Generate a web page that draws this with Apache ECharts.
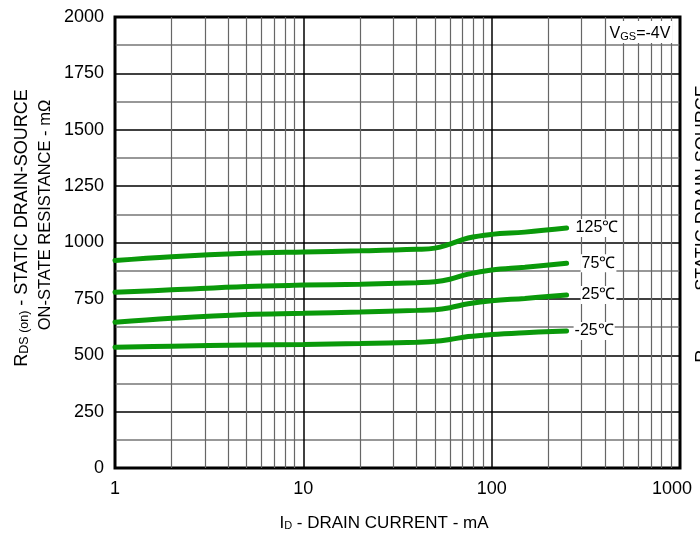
<!DOCTYPE html>
<html>
<head>
<meta charset="utf-8">
<script src="https://cdn.jsdelivr.net/npm/echarts@6/dist/echarts.min.js"></script>
<style>
  html, body { margin: 0; padding: 0; background: #fff; }
  #main { width: 700px; height: 538px; }
</style>
</head>
<body>
<div id="main"></div>
<script>
let myChart = echarts.init(document.getElementById("main"));

// drain current, mA
let currents = [1, 2, 5, 10, 20, 40, 50, 60, 75, 100, 150, 250];
// on-state resistance, mOhm
let r125 = [920, 937, 952, 958, 963, 970, 975, 993, 1020, 1036, 1046, 1064];
let r75 = [779, 790, 805, 811, 815, 822, 826, 837, 860, 878, 890, 908];
let r25 = [646, 664, 681, 686, 692, 699, 702, 711, 728, 742, 752, 767];
let rMinus25 = [535, 540, 546, 548, 552, 558, 562, 570, 583, 592, 600, 608];
let seriesNames = ["125℃", "75℃", "25℃", "-25℃"];
let labelGaps = [8, 14, 14, 7];
let minorCurrents = [2, 3, 4, 5, 6, 7, 8, 9, 20, 30, 40, 50, 60, 70, 80, 90,
  200, 300, 400, 500, 600, 700, 800, 900];

let font = "'Liberation Sans', Arial, sans-serif";
let green = "#0a990a";

function pairs(ys) {
  let out = [];
  for (let i = 0; i < currents.length; i++) {
    out.push([currents[i], ys[i]]);
  }
  return out;
}

function richText(size, subSize, lh) {
  return {
    a: { fontFamily: font, fontSize: size, fill: "#000", lineHeight: lh, verticalAlign: "bottom" },
    s: { fontFamily: font, fontSize: subSize, fill: "#000", lineHeight: lh, verticalAlign: "bottom" },
  };
}

let curves = [r125, r75, r25, rMinus25];
let series = [
  {
    type: "line",
    data: [],
    z: 1,
    silent: true,
    markLine: {
      silent: true,
      symbol: "none",
      label: { show: false },
      lineStyle: { color: "#666", width: 1.2, type: "solid" },
      data: minorCurrents.map((v) => ({ xAxis: v })),
    },
  },
];
for (let i = 0; i < curves.length; i++) {
  series.push({
    type: "line",
    name: seriesNames[i],
    data: pairs(curves[i]),
    smooth: 0.4,
    showSymbol: false,
    z: 5,
    lineStyle: { color: green, width: 5, cap: "round" },
    endLabel: {
      show: true,
      formatter: "{a}",
      distance: labelGaps[i],
      color: "#000",
      fontFamily: font,
      fontSize: 16,
      backgroundColor: "#fff",
      padding: [1, 1, 1, 1],
    },
  });
}

let option = {
  animation: false,
  grid: {
    left: 115,
    right: 20,
    top: 17,
    bottom: 70,
    show: true,
    borderColor: "#000",
    borderWidth: 3,
  },
  xAxis: {
    type: "log",
    logBase: 10,
    min: 1,
    max: 1000,
    axisLine: { show: false },
    axisTick: { show: false },
    axisLabel: {
      color: "#000",
      fontFamily: font,
      fontSize: 18,
      margin: 12,
      formatter: (v) => (v === 1000 ? "{r|1000}" : String(v)),
      rich: { r: { fontFamily: font, fontSize: 18, color: "#000", padding: [0, 16, 0, 0] } },
    },
    splitLine: { show: true, lineStyle: { color: "#000", width: 1.5 } },
  },
  yAxis: {
    type: "value",
    min: 0,
    max: 2000,
    interval: 250,
    axisLine: { show: false },
    axisTick: { show: false },
    axisLabel: {
      color: "#000",
      fontFamily: font,
      fontSize: 18,
      margin: 11,
      formatter: (v) => String(v),
    },
    splitLine: { show: true, lineStyle: { color: "#000", width: 1.5 } },
    minorTick: { show: false, splitNumber: 2 },
    minorSplitLine: { show: true, lineStyle: { color: "#777", width: 1.5 } },
  },
  graphic: [
    {
      type: "text",
      x: 20,
      y: 228,
      rotation: Math.PI / 2,
      style: {
        text: "{a|R}{s|DS (on)}{a| - STATIC DRAIN-SOURCE}",
        align: "center",
        verticalAlign: "middle",
        rich: richText(18, 12.5, 22),
      },
    },
    {
      type: "text",
      x: 45,
      y: 215,
      rotation: Math.PI / 2,
      style: {
        text: "ON-STATE RESISTANCE - mΩ",
        align: "center",
        verticalAlign: "middle",
        fontFamily: font,
        fontSize: 16.5,
        fill: "#000",
      },
    },
    {
      type: "text",
      x: 701,
      y: 224,
      rotation: Math.PI / 2,
      style: {
        text: "{a|R}{s|DS (on)}{a| - STATIC DRAIN-SOURCE}",
        align: "center",
        verticalAlign: "middle",
        rich: richText(18, 12.5, 22),
      },
    },
    {
      type: "text",
      x: 384,
      y: 521,
      style: {
        text: "{a|I}{s|D}{a| - DRAIN CURRENT - mA}",
        align: "center",
        verticalAlign: "middle",
        rich: richText(17, 11, 21),
      },
    },
    {
      type: "text",
      x: 640,
      y: 32,
      z: 100,
      style: {
        text: "{a|V}{s|GS}{a|=-4V}",
        align: "center",
        verticalAlign: "middle",
        backgroundColor: "#fff",
        padding: [1, 2, 1, 2],
        rich: richText(16, 11, 20),
      },
    },
  ],
  series: series,
};

myChart.setOption(option);
</script>
</body>
</html>
